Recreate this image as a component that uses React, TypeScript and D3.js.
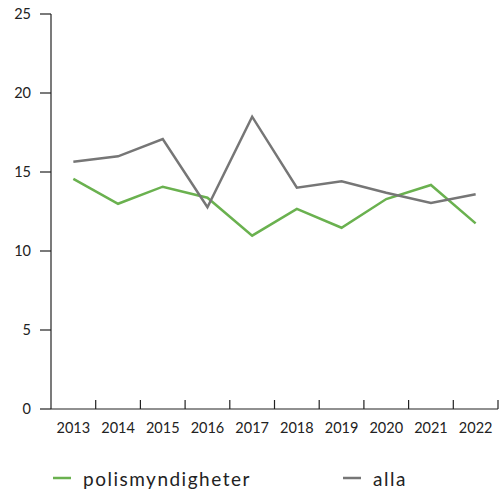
import React from "react";
import * as d3 from "d3";

const years = ["2013","2014","2015","2016","2017","2018","2019","2020","2021","2022"];
const polis = [14.56, 12.99, 14.07, 13.37, 10.97, 12.66, 11.47, 13.29, 14.18, 11.75];
const alla = [15.65, 15.99, 17.09, 12.77, 18.5, 14.01, 14.41, 13.69, 13.04, 13.59];
const yTicks = [0, 5, 10, 15, 20, 25];
const seriesNames = ["polismyndigheter", "alla"];
const seriesColors = ["#6ab14f", "#767676"];

export default function App() {
  const W = 499, H = 490;
  const x = d3.scaleBand<string>().domain(years).range([51, 498]);
  const y = d3.scaleLinear().domain([0, 25]).range([409, 14]);
  const line = d3.line<number>()
    .x((_, i) => (x(years[i]) as number) + x.bandwidth() / 2)
    .y((d) => y(d));
  const font = "Lato, 'Open Sans', sans-serif";
  const data = [polis, alla];
  return (
    <svg width={W} height={H} style={{ position: "absolute", left: 0, top: 0 }} fontFamily={font}>
      {data.map((s, i) => (
        <path key={i} d={line(s) as string} fill="none" stroke={seriesColors[i]} strokeWidth={2.5} strokeLinejoin="miter" />
      ))}
      <line x1={51} x2={51} y1={14} y2={409} stroke="#222" strokeWidth={1.2} />
      <line x1={51} x2={498} y1={409} y2={409} stroke="#222" strokeWidth={1.2} />
      {yTicks.map((t) => (
        <g key={t}>
          <line x1={40} x2={51} y1={y(t)} y2={y(t)} stroke="#222" strokeWidth={1.2} />
          <text x={31} y={y(t)} dy="0.35em" textAnchor="end" fontSize={14.5} fill="#222">{t}</text>
        </g>
      ))}
      {years.map((yr) => (
        <g key={yr}>
          <line x1={(x(yr) as number) + x.bandwidth()} x2={(x(yr) as number) + x.bandwidth()} y1={400} y2={409} stroke="#222" strokeWidth={1.2} />
          <text x={(x(yr) as number) + x.bandwidth() / 2} y={428} dy="0.35em" textAnchor="middle" fontSize={14.5} fill="#222">{yr}</text>
        </g>
      ))}
      {seriesNames.map((n, i) => {
        const lx = i === 0 ? 53 : 343;
        return (
          <g key={n}>
            <line x1={lx} x2={lx + 18} y1={478} y2={478} stroke={seriesColors[i]} strokeWidth={2.5} />
            <text x={lx + 30} y={486} fontSize={19} letterSpacing={1.5} fill="#222">{n}</text>
          </g>
        );
      })}
    </svg>
  );
}
